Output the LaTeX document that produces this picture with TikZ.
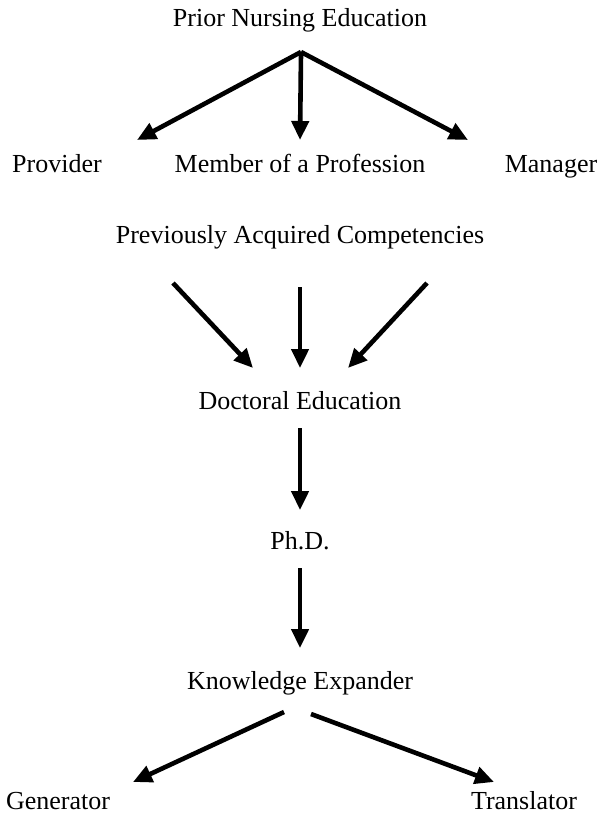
\documentclass[tikz,border=0pt]{standalone}
\usepackage{fontspec}
\setmainfont{Liberation Serif}
\usetikzlibrary{arrows.meta,calc}

\begin{document}
\begin{tikzpicture}[x=1pt,y=-1pt,
  lbl/.style={anchor=base,inner sep=0pt,font=\fontsize{26}{28}\selectfont},
  arr/.style={-{Triangle[length=19pt,width=17pt]},line width=4.6pt}]
  \useasboundingbox (0,0) rectangle (598,816);
			 \node[lbl] (prior)	at (300,27) {Prior Nursing Education};
			 \node[lbl] (provider)	at (57,172) {Provider};
			 \node[lbl] (member)	at (300,172) {Member of a Profession};
			 \node[lbl] (manager)	at (551,172) {Manager};
			 \node[lbl] (previous)	at (300,243) {Previously Acquired Competencies};
			 \node[lbl] (doctoral)	at (300,409) {Doctoral Education};
			 \node[lbl] (phd)	at (300,549) {Ph.D.};
			 \node[lbl] (expander)	at (300,689) {Knowledge Expander};
			 \node[lbl] (generator)	at (58,809) {Generator};
			 \node[lbl] (translator)	at (524,809) {Translator};
			 \coordinate (apex) at ($(prior.base)+(1,25)$);
			 \draw[arr] (apex) -- ($(provider.base)+(80,-32)$);
			 \draw[arr] ($(apex)+(0,2)$) -- ($(member.base)+(0,-32)$);
			 \draw[arr] (apex) -- ($(manager.base)+(-83,-32)$);
			 \draw[arr] ($(previous.base)+(-127,40)$) -- ($(doctoral.base)+(-47,-41)$);
			 \draw[arr] ($(previous.base)+(0,44)$) -- ($(doctoral.base)+(0,-41)$);
			 \draw[arr] ($(previous.base)+(127,40)$) -- ($(doctoral.base)+(48,-41)$);
			 \draw[arr] ($(doctoral.base)+(0,19)$) -- ($(phd.base)+(0,-39)$);
			 \draw[arr] ($(phd.base)+(0,19)$) -- ($(expander.base)+(0,-41)$);
			 \draw[arr] ($(expander.base)+(-16,23)$) -- ($(generator.base)+(75,-27)$);
			 \draw[arr] ($(expander.base)+(11,25)$) -- ($(translator.base)+(-30,-27)$);
\end{tikzpicture}
\end{document}
